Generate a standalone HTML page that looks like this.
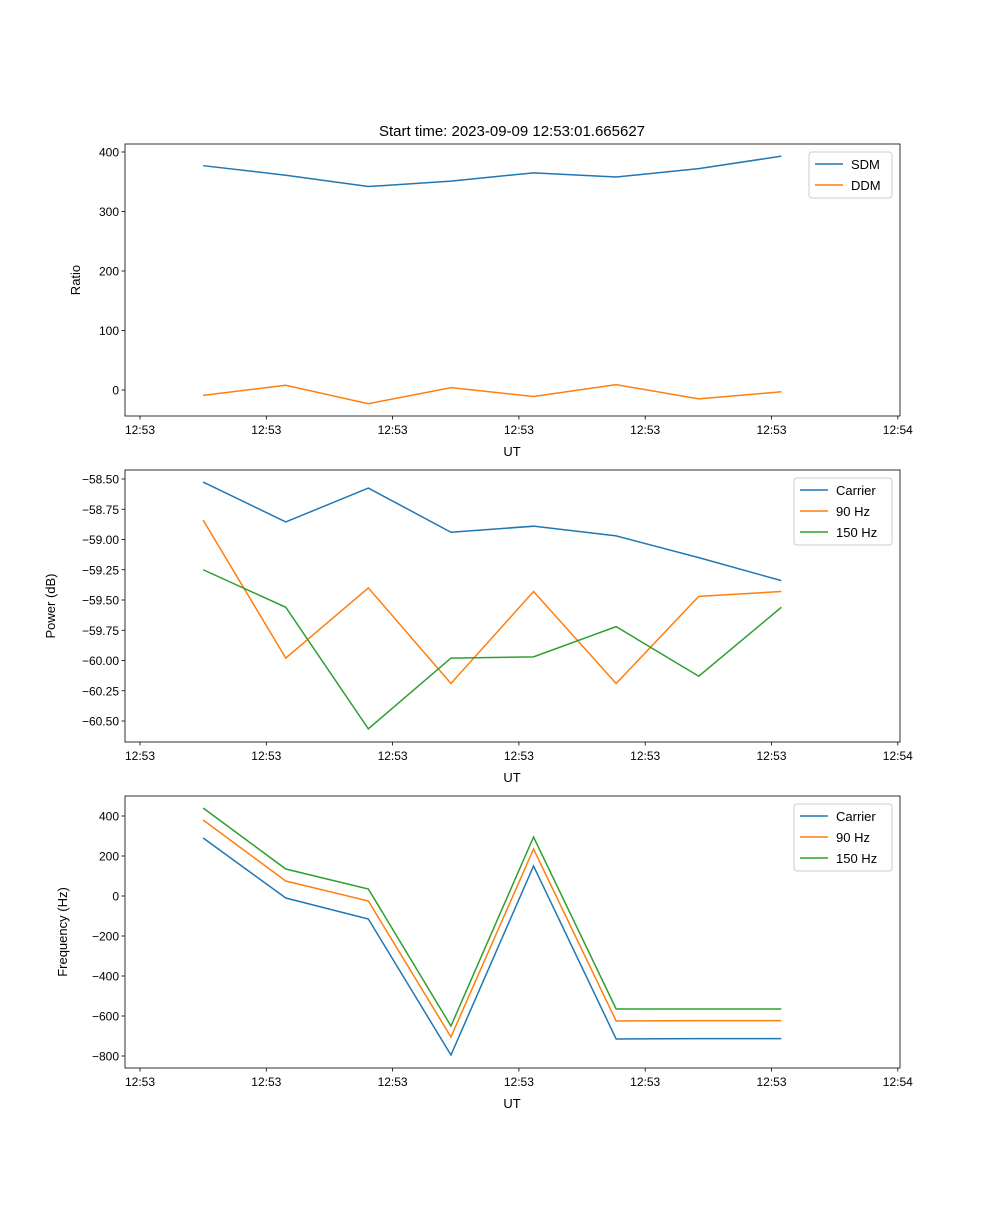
<!DOCTYPE html>
<html><head><meta charset="utf-8"><style>
body{margin:0;background:#fff}
svg{font-family:"Liberation Sans","DejaVu Sans",sans-serif}
</style></head><body>
<svg id="fig" width="1000" height="1200" xmlns="http://www.w3.org/2000/svg">
<rect width="1000" height="1200" fill="#fff"/>
<text x="512" y="136" font-size="15" text-anchor="middle">Start time: 2023-09-09 12:53:01.665627</text>
</svg>
<script>
const times=[0.5,1.154,1.808,2.462,3.116,3.77,4.424,5.078];
const xTickVals=[0,1,2,3,4,5,6];
const xTickLabels=["12:53","12:53","12:53","12:53","12:53","12:53","12:54"];
const sdm=[377,361,342,351,365,358,372,393];
const ddm=[-9,8,-23,4,-11,9,-15,-3];
const pCarrier=[-58.525,-58.855,-58.575,-58.94,-58.89,-58.97,-59.15,-59.34];
const p90=[-58.84,-59.98,-59.40,-60.19,-59.43,-60.19,-59.47,-59.43];
const p150=[-59.25,-59.56,-60.565,-59.98,-59.97,-59.72,-60.13,-59.56];
const fCarrier=[290,-10,-115,-795,150,-715,-713,-713];
const f90=[380,75,-25,-705,235,-625,-623,-623];
const f150=[440,135,35,-650,295,-565,-565,-565];
const yTicks1=[0,100,200,300,400];
const yTicks2=[-60.5,-60.25,-60,-59.75,-59.5,-59.25,-59,-58.75,-58.5];
const yTicks3=[-800,-600,-400,-200,0,200,400];
const C=["#1f77b4","#ff7f0e","#2ca02c"];
const NS="http://www.w3.org/2000/svg";
const svg=document.getElementById('fig');
function el(t,a,p){const e=document.createElementNS(NS,t);for(const k in a)e.setAttribute(k,a[k]);(p||svg).appendChild(e);return e;}
const L=125,R=900;
const xs=v=>140+v*126.3;
function panel(top,bot,y0v,y0p,y1v,y1p,yt,fmt,ylabel,ylx,series,names,legW,pname){
  const g=el('g',{});
  
  
  const ys=v=>y0p+(v-y0v)*(y1p-y0p)/(y1v-y0v);
  series.forEach((s,i)=>{
    const pl=el('polyline',{points:s.map((v,j)=>xs(times[j])+','+ys(v)).join(' '),fill:'none',stroke:C[i],'stroke-width':1.5},g);
    
    
  });
  const fr=el('rect',{x:L,y:top,width:R-L,height:bot-top,fill:'none',stroke:'#000','stroke-width':0.8},g);
  
  
  xTickVals.forEach((v,i)=>{const x=xs(v);el('line',{x1:x,x2:x,y1:bot,y2:bot+3.5,stroke:'#000','stroke-width':0.8},g);
    const t=el('text',{x:x,y:bot+18,'font-size':12,'text-anchor':'middle'},g);t.textContent=xTickLabels[i];
    
    });
  const xl=el('text',{x:512,y:bot+40,'font-size':13,'text-anchor':'middle'},g);xl.textContent='UT';
  
  
  yt.forEach(v=>{const y=ys(v);el('line',{x1:L-3.5,x2:L,y1:y,y2:y,stroke:'#000','stroke-width':0.8},g);
    const t=el('text',{x:L-6,y:y+4.5,'font-size':12,'text-anchor':'end'},g);t.textContent=fmt(v);
    
    });
  const yl=el('text',{x:ylx,y:(top+bot)/2,'font-size':13,'text-anchor':'middle',transform:`rotate(-90 ${ylx} ${(top+bot)/2})`},g);yl.textContent=ylabel;
  
  
  const lx=R-8-legW,ly=top+8;
  const lg=el('g',{},g);
  
  
  el('rect',{x:lx,y:ly,width:legW,height:names.length*21+4,rx:3,fill:'#fff',stroke:'#ccc','stroke-width':1},lg);
  names.forEach((n,i)=>{const yy=ly+12+i*21;
    el('line',{x1:lx+6,x2:lx+34,y1:yy,y2:yy,stroke:C[i],'stroke-width':1.5},lg);
    const t=el('text',{x:lx+42,y:yy+5,'font-size':13},lg);t.textContent=n;
    
    });
}
panel(144,416,0,390,400,152,yTicks1,v=>v<0?'\u2212'+(-v):String(v),'Ratio',80,[sdm,ddm],['SDM','DDM'],83,'ratio-panel');
panel(470,742,-58.5,479,-60.5,721,yTicks2,v=>'\u2212'+(-v).toFixed(2),'Power (dB)',55,[pCarrier,p90,p150],['Carrier','90 Hz','150 Hz'],98,'power-panel');
panel(796,1068,0,896,400,816,yTicks3,v=>v<0?'\u2212'+(-v):String(v),'Frequency (Hz)',67,[fCarrier,f90,f150],['Carrier','90 Hz','150 Hz'],98,'frequency-panel');
</script>
</body></html>
